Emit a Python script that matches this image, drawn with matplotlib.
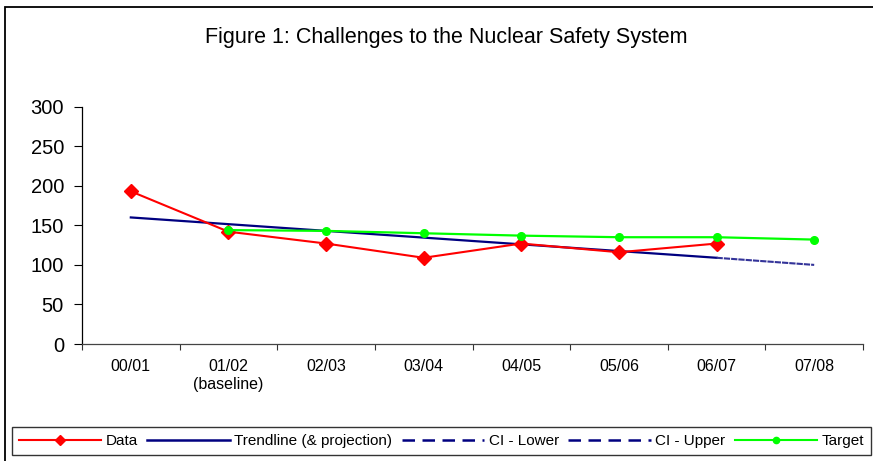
import numpy as np
import matplotlib
matplotlib.use("Agg")
import matplotlib.pyplot as plt
from matplotlib.patches import Rectangle
from matplotlib.lines import Line2D

plt.rcParams['font.family'] = ['Liberation Sans', 'DejaVu Sans']

years = ['00/01', '01/02\n(baseline)', '02/03', '03/04', '04/05', '05/06', '06/07', '07/08']
data = [193, 142, 127, 109, 127, 116, 127]
trend = [160, 151.5, 143, 134.5, 126, 117.5, 109]
ci_lower = [109, 100]
ci_upper = [109, 100]
target = [144, 143, 140, 137, 135, 135, 132]

W, H = 873, 461
fig = plt.figure(figsize=(W / 100, H / 100), dpi=100)
ax = fig.add_axes([82 / W, 1 - 344 / H, (863 - 82) / W, (344 - 106.7) / H])

x = np.arange(len(years))
ax.plot(x[:len(data)], data, color='#FF0000', lw=1.5, marker='D', ms=7, zorder=4)
ax.plot(x[:len(trend)], trend, color='#000080', lw=1.6, zorder=3)
ax.plot(x[6:8], ci_lower, color='#333399', lw=1.5, linestyle=(0, (3, 4)), zorder=3)
ax.plot(x[6:8], ci_upper, color='#333399', lw=1.5, linestyle=(3.5, (3, 4)), zorder=3)
ax.plot(x[1:], target, color='#00FF00', lw=1.6, marker='o', ms=5.5, zorder=5)

ax.set_xlim(-0.5, len(years) - 0.5)
ax.set_ylim(0, 300)
ax.set_yticks(np.arange(0, 301, 50))
ax.set_xticks(x)
ax.set_xticklabels(years, fontsize=11.5)
ax.set_xticks(np.arange(-0.5, len(years)), minor=True)
ax.tick_params(axis='x', which='major', length=0, pad=11)
ax.tick_params(axis='x', which='minor', length=4, width=0.8, color='#333333')
ax.tick_params(axis='y', length=6, width=0.8, labelsize=14.5, pad=7)
for s in ['top', 'right']:
    ax.spines[s].set_visible(False)
ax.spines['left'].set_linewidth(0.9)
ax.spines['bottom'].set_linewidth(0.9)
ax.spines['bottom'].set_color('#444444')

fig.text(446.5 / W, 1 - 37 / H, 'Figure 1: Challenges to the Nuclear Safety System',
         ha='center', va='center', fontsize=15.5)

# outer frame
fig.add_artist(Rectangle((5 / W, -0.05), 1.1, 1 - 7 / H + 0.05, transform=fig.transFigure,
                         fill=False, edgecolor='black', lw=1.3))

handles = [
    Line2D([], [], color='#FF0000', lw=1.5, marker='D', ms=5),
    Line2D([], [], color='#000080', lw=1.8),
    Line2D([], [], color='#000080', lw=1.8, linestyle=(0, (5, 3))),
    Line2D([], [], color='#000080', lw=1.8, linestyle=(0, (5, 3))),
    Line2D([], [], color='#00FF00', lw=1.5, marker='o', ms=4.5),
]
labels = ['Data', 'Trendline (& projection)', 'CI - Lower', 'CI - Upper', 'Target']
leg = fig.legend(handles, labels, loc='center',
                 bbox_to_anchor=((12 + 871) / 2 / W, 1 - 441 / H),
                 ncol=5, fontsize=11, handlelength=5.4, handletextpad=0.3,
                 columnspacing=0.6, frameon=True, fancybox=False, borderpad=0.45)
leg.get_frame().set_edgecolor('black')
leg.get_frame().set_linewidth(1.0)

fig.savefig('out.png', dpi=100)
